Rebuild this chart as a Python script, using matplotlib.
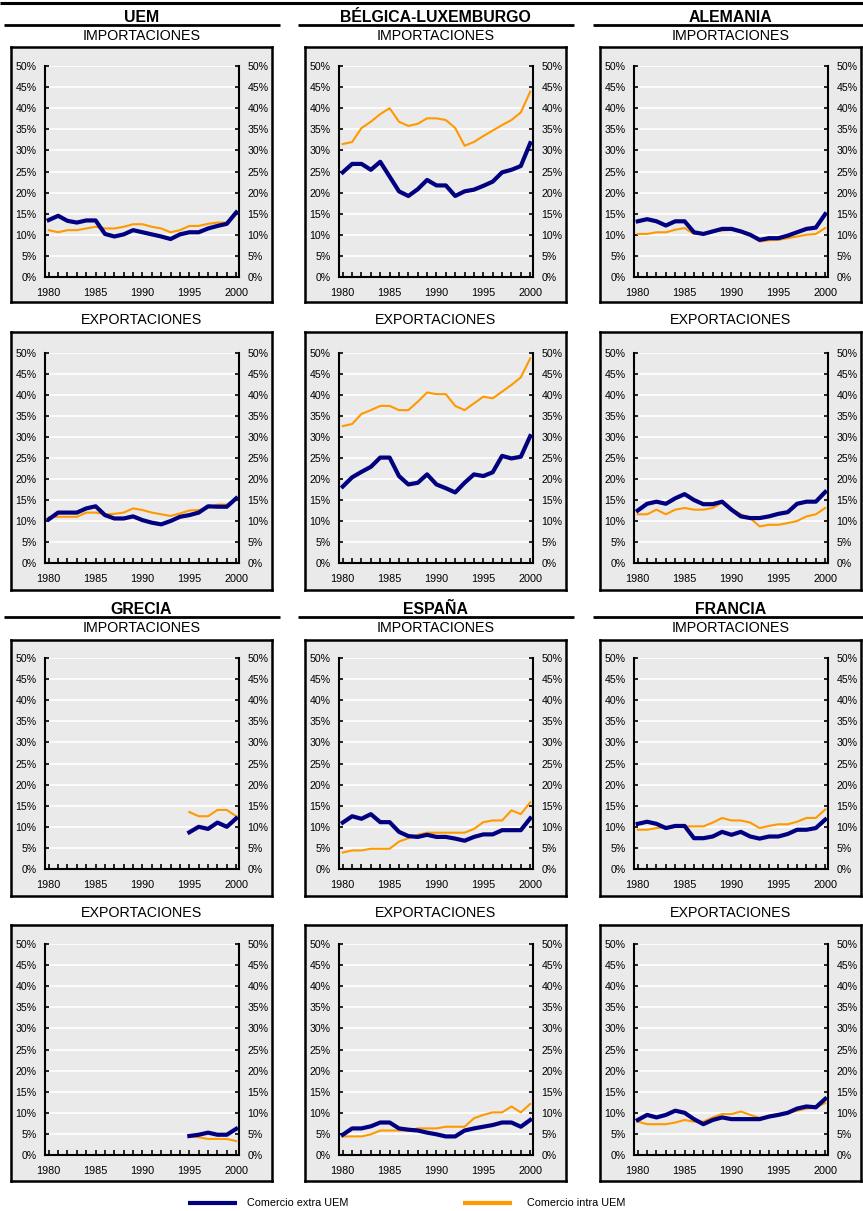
import numpy as np
import matplotlib.pyplot as plt
from matplotlib.lines import Line2D
from matplotlib.ticker import FuncFormatter

plt.rcParams['font.family'] = ['Liberation Sans', 'DejaVu Sans']

# ── Data (share of trade, %) ─────────────────────────────────────
years = list(range(1980, 2001))
nan = np.nan

uem_imp_extra = [13.5, 14.5, 13.3, 12.9, 13.4, 13.4, 10.2, 9.6, 10.1, 11.1, 10.6, 10.1, 9.6, 9.0, 10.1, 10.6, 10.6, 11.5, 12.1, 12.6, 15.3]
uem_imp_intra = [11.1, 10.6, 11.1, 11.1, 11.5, 11.9, 11.5, 11.5, 11.9, 12.5, 12.5, 11.9, 11.5, 10.6, 11.1, 12.1, 12.1, 12.6, 12.9, 12.9, 14.9]
uem_exp_extra = [10.4, 12.0, 12.0, 12.0, 13.0, 13.5, 11.4, 10.6, 10.6, 11.1, 10.2, 9.6, 9.2, 10.0, 11.0, 11.4, 12.0, 13.5, 13.4, 13.4, 15.4]
uem_exp_intra = [10.9, 11.0, 11.0, 11.0, 12.0, 12.0, 11.6, 11.7, 12.0, 13.0, 12.6, 12.0, 11.6, 11.2, 11.8, 12.5, 12.6, 13.1, 13.9, 13.9, 15.2]

bel_imp_extra = [24.8, 26.8, 26.8, 25.4, 27.3, 23.8, 20.3, 19.2, 20.8, 23.0, 21.7, 21.7, 19.2, 20.3, 20.7, 21.6, 22.6, 24.8, 25.4, 26.3, 31.7]
bel_imp_intra = [31.5, 32.0, 35.3, 36.8, 38.6, 40.0, 36.8, 35.8, 36.3, 37.6, 37.6, 37.2, 35.3, 31.1, 32.0, 33.4, 34.7, 36.0, 37.2, 39.0, 43.9]
bel_exp_extra = [18.2, 20.4, 21.7, 22.9, 25.1, 25.1, 20.7, 18.7, 19.1, 21.1, 18.7, 17.8, 16.8, 19.1, 21.1, 20.7, 21.6, 25.5, 24.9, 25.3, 30.2]
bel_exp_intra = [32.6, 33.1, 35.5, 36.4, 37.4, 37.4, 36.4, 36.4, 38.4, 40.6, 40.2, 40.2, 37.4, 36.4, 38.0, 39.6, 39.2, 40.8, 42.4, 44.2, 48.7]

ale_imp_extra = [13.2, 13.7, 13.2, 12.2, 13.2, 13.2, 10.6, 10.2, 10.8, 11.4, 11.4, 10.8, 10.0, 8.8, 9.2, 9.2, 9.8, 10.6, 11.4, 11.7, 14.9]
ale_imp_intra = [10.2, 10.2, 10.6, 10.6, 11.2, 11.6, 10.2, 10.2, 10.8, 11.0, 11.2, 11.0, 10.2, 8.4, 8.7, 8.8, 9.2, 9.6, 10.0, 10.2, 11.6]
ale_exp_extra = [12.5, 14.1, 14.6, 14.1, 15.4, 16.4, 15.0, 14.0, 14.0, 14.6, 12.7, 11.1, 10.7, 10.7, 11.1, 11.7, 12.1, 14.1, 14.6, 14.6, 16.9]
ale_exp_intra = [11.6, 11.6, 12.7, 11.6, 12.7, 13.1, 12.7, 12.7, 13.1, 14.4, 12.8, 11.6, 10.7, 8.7, 9.1, 9.1, 9.5, 10.0, 11.1, 11.6, 13.1]

gre_imp_extra = [nan] * 15 + [8.7, 10.0, 9.5, 11.0, 10.0, 12.0]
gre_imp_intra = [nan] * 15 + [13.5, 12.5, 12.5, 14.0, 14.0, 12.5]
gre_exp_extra = [nan] * 15 + [4.5, 4.8, 5.3, 4.8, 4.8, 6.2]
gre_exp_intra = [nan] * 15 + [4.5, 4.2, 3.8, 3.8, 3.8, 3.3]

esp_imp_extra = [11.0, 12.5, 11.9, 13.0, 11.1, 11.1, 8.8, 7.8, 7.6, 8.1, 7.6, 7.6, 7.2, 6.7, 7.6, 8.2, 8.2, 9.2, 9.2, 9.2, 12.0]
esp_imp_intra = [3.9, 4.4, 4.4, 4.8, 4.8, 4.8, 6.5, 7.3, 8.1, 8.6, 8.6, 8.6, 8.6, 8.6, 9.5, 11.1, 11.5, 11.5, 13.9, 13.0, 15.8]
esp_exp_extra = [4.8, 6.3, 6.3, 6.8, 7.7, 7.7, 6.3, 6.0, 5.8, 5.3, 4.9, 4.4, 4.4, 5.8, 6.3, 6.7, 7.1, 7.7, 7.7, 6.7, 8.3]
esp_exp_intra = [4.4, 4.4, 4.4, 4.9, 5.8, 5.8, 5.8, 5.8, 6.3, 6.3, 6.3, 6.7, 6.7, 6.7, 8.7, 9.5, 10.1, 10.1, 11.5, 10.1, 12.1]

fra_imp_extra = [10.7, 11.2, 10.7, 9.7, 10.2, 10.2, 7.3, 7.3, 7.7, 8.8, 8.1, 8.8, 7.7, 7.2, 7.7, 7.7, 8.3, 9.3, 9.3, 9.7, 11.7]
fra_imp_intra = [9.3, 9.3, 9.7, 9.9, 10.1, 10.1, 10.1, 10.1, 11.0, 12.1, 11.5, 11.5, 11.0, 9.7, 10.2, 10.6, 10.6, 11.2, 12.1, 12.1, 14.1]
fra_exp_extra = [8.3, 9.5, 8.9, 9.5, 10.5, 10.0, 8.5, 7.3, 8.3, 8.9, 8.5, 8.5, 8.5, 8.5, 9.1, 9.5, 10.0, 11.0, 11.5, 11.3, 13.3]
fra_exp_intra = [7.9, 7.3, 7.3, 7.3, 7.7, 8.3, 7.9, 7.9, 8.9, 9.7, 9.7, 10.3, 9.5, 8.8, 9.3, 9.7, 10.0, 10.5, 11.0, 11.3, 12.3]

countries_top = ['UEM', 'BÉLGICA-LUXEMBURGO', 'ALEMANIA']
countries_bottom = ['GRECIA', 'ESPAÑA', 'FRANCIA']
series_names = ['Comercio extra UEM', 'Comercio intra UEM']

# ── Layout in pixels ─────────────────────────────────────────────
W, H = 863, 1211
fig = plt.figure(figsize=(W / 100, H / 100), dpi=100)
fig.patch.set_facecolor('white')

def fx(x):
    return x / W

def fy(y):
    return 1 - y / H

def hline(x0, x1, y, lw):
    fig.add_artist(Line2D([fx(x0), fx(x1)], [fy(y), fy(y)], color='black',
                          lw=lw, transform=fig.transFigure, solid_capstyle='butt'))

GRAY = '#eaeaea'
NAVY = '#000080'
ORANGE = '#ff9900'

col_x = [11, 305, 600]
frame_w = 261
# (frame top, frame bottom, plot top, plot bottom)
rows = [(47, 302, 66, 277), (332, 590, 353, 563),
        (640, 896, 658, 869), (925, 1181, 944, 1155)]

def panel(col, row, extra, intra):
    x0 = col_x[col]
    ft, fb, pt, pb = rows[row]
    fr = fig.add_axes([fx(x0), fy(fb), frame_w / W, (fb - ft) / H])
    fr.set_facecolor(GRAY)
    fr.set_xticks([])
    fr.set_yticks([])
    for s in fr.spines.values():
        s.set_linewidth(1.8)

    ax = fig.add_axes([fx(x0 + 34), fy(pb), 194 / W, (pb - pt) / H])
    ax.set_facecolor(GRAY)
    ax.plot(years, intra, color=ORANGE, lw=1.5, zorder=3)
    ax.plot(years, extra, color=NAVY, lw=3.0, zorder=4)
    ax.set_ylim(0, 50)
    ax.set_xlim(1979.6, 2000.3)
    ax.set_yticks(range(0, 51, 5))
    ax.yaxis.set_major_formatter(FuncFormatter(lambda v, p: f"{v:.0f}%"))
    ax.set_xticks(years)
    ax.set_xticklabels([str(y) if y % 5 == 0 else '' for y in years])
    ax.grid(True, axis='y', color='white', lw=1.2)
    ax.set_axisbelow(True)
    ax.spines['top'].set_visible(False)
    for s in ['left', 'right', 'bottom']:
        ax.spines[s].set_linewidth(1.5)
    ax.tick_params(axis='y', direction='in', left=True, right=True,
                   labelleft=True, labelright=True, length=3, width=1.2,
                   labelsize=7.6, pad=6)
    ax.tick_params(axis='x', direction='in', length=3.5, width=1.2,
                   labelsize=7.8, pad=8)
    return ax

data = [
    [(uem_imp_extra, uem_imp_intra), (bel_imp_extra, bel_imp_intra), (ale_imp_extra, ale_imp_intra)],
    [(uem_exp_extra, uem_exp_intra), (bel_exp_extra, bel_exp_intra), (ale_exp_extra, ale_exp_intra)],
    [(gre_imp_extra, gre_imp_intra), (esp_imp_extra, esp_imp_intra), (fra_imp_extra, fra_imp_intra)],
    [(gre_exp_extra, gre_exp_intra), (esp_exp_extra, esp_exp_intra), (fra_exp_extra, fra_exp_intra)],
]
for r in range(4):
    for c in range(3):
        panel(c, r, *data[r][c])

# ── Titles and rules ─────────────────────────────────────────────
hline(0, W, 3, 2.2)
sub_y = [36, 320, 628.5, 913]
for c in range(3):
    cx = col_x[c] + frame_w / 2
    for name, ty, ly in [(countries_top[c], 17, 24.5), (countries_bottom[c], 609, 617.5)]:
        fig.text(fx(cx), fy(ty), name, ha='center', va='center',
                 fontsize=11.4, fontweight='bold')
        hline(col_x[c] - 7, min(col_x[c] + frame_w + 8, W), ly, 2.0)
    for r, sy in enumerate(sub_y):
        label = 'IMPORTACIONES' if r % 2 == 0 else 'EXPORTACIONES'
        fig.text(fx(cx), fy(sy), label, ha='center', va='center', fontsize=10.3)

# ── Legend ───────────────────────────────────────────────────────
fig.add_artist(Line2D([fx(188), fx(237)], [fy(1203), fy(1203)], color=NAVY,
                      lw=3.0, transform=fig.transFigure, solid_capstyle='butt'))
fig.text(fx(247), fy(1203), series_names[0], ha='left', va='center', fontsize=7.8)
fig.add_artist(Line2D([fx(463), fx(512)], [fy(1203), fy(1203)], color=ORANGE,
                      lw=3.0, transform=fig.transFigure, solid_capstyle='butt'))
fig.text(fx(527), fy(1203), series_names[1], ha='left', va='center', fontsize=7.8)

plt.savefig('out.png', dpi=100)
